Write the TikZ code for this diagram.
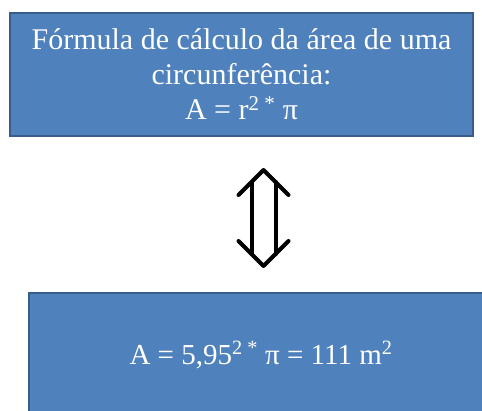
\documentclass[tikz,border=0pt]{standalone}
\usepackage{fontspec}
\setmainfont{Liberation Serif}
\definecolor{boxfill}{HTML}{4F81BD}
\definecolor{boxline}{HTML}{385D8A}
\tikzset{
  bluebox/.style={draw=boxline, line width=2.2pt, fill=boxfill, text=white,
    align=center, inner sep=0pt},
  dblarrow/.style={draw=black, line width=4pt, line cap=round, line join=round}
}
\begin{document}
\begin{tikzpicture}[x=1pt,y=-1pt]
\useasboundingbox (0,0) rectangle (482,410);
\clip (0,0) rectangle (482,410);
\node[bluebox, minimum width=463pt, minimum height=123pt, font=\fontsize{30}{35}\selectfont] (top) at (241.5,74.5)
  {Fórmula de cálculo da área de uma\\circunferência:\\A = r\textsuperscript{2 *} π};
\node[bluebox, minimum width=464pt, minimum height=124pt, font=\fontsize{29}{34}\selectfont] (bot) at (261,355)
  {A = 5,95\textsuperscript{2 *} π = 111 m\textsuperscript{2}};
\coordinate (up) at (263.5,170);
\coordinate (dn) at (263.5,266);
\draw[dblarrow] ([xshift=-25pt,yshift=-25pt]up) -- (up) -- ([xshift=25pt,yshift=-25pt]up);
\draw[dblarrow] ([xshift=-25pt,yshift=25pt]dn) -- (dn) -- ([xshift=25pt,yshift=25pt]dn);
\draw[dblarrow] ([xshift=-12pt,yshift=-12pt]up) -- ([xshift=-12pt,yshift=12pt]dn);
\draw[dblarrow] ([xshift=12pt,yshift=-12pt]up) -- ([xshift=12pt,yshift=12pt]dn);
\end{tikzpicture}
\end{document}
